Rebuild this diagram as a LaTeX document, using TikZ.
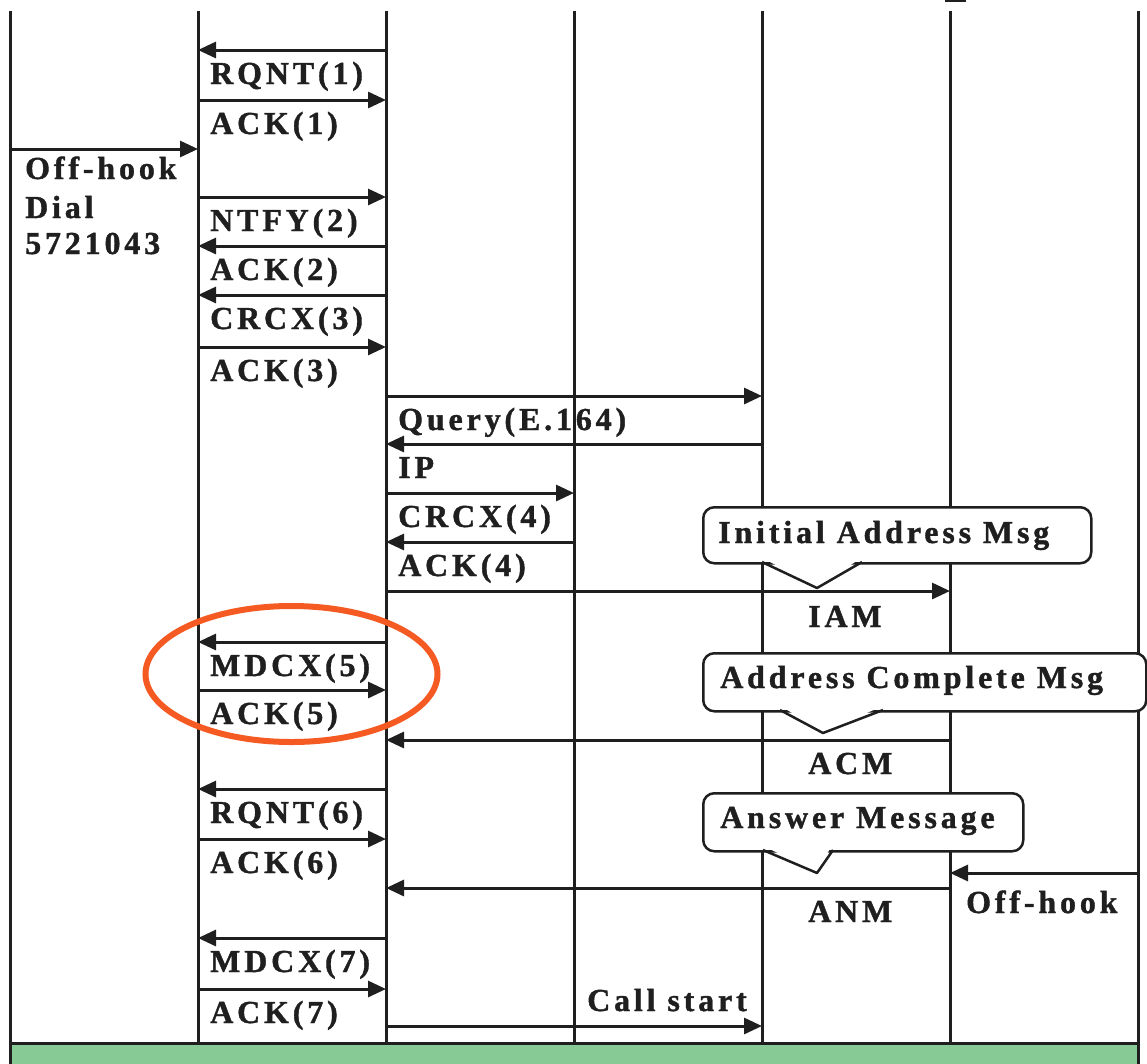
\documentclass[tikz,border=0pt]{standalone}
\usepackage{fontspec}
\setmainfont{Liberation Serif}[LetterSpace=12, BoldFeatures={FakeBold=1.2}]
\usetikzlibrary{arrows.meta}
\definecolor{barGreen}{RGB}{136,202,149}
\definecolor{ringOrange}{RGB}{244,90,34}
\tikzset{
  lifeline/.style={line width=3pt, black!88},
  msg/.style={line width=3pt, black!88, -{Triangle[length=18pt,width=16pt]}},
  lbl/.style={anchor=base west, inner sep=0pt, font=\fontsize{32}{37}\selectfont\bfseries, text=black!88},
  callbox/.style={draw=black!88, line width=2.5pt, fill=white, rounded corners=11pt, inner sep=0pt},
  pointer/.style={draw=black!88, line width=2.5pt, line join=round},
  ring/.style={draw=ringOrange, line width=6pt}
}
\begin{document}
\begin{tikzpicture}[x=1pt,y=-1pt]
\useasboundingbox (0,0) rectangle (1147,1063);
% lifelines
\foreach \i/\x in {0/10,1/198,2/386,3/574,4/762,5/950,6/1138}{
  \coordinate (L\i) at (\x,11);
  \coordinate (B\i) at (\x,1043);
  \draw[lifeline] (L\i) -- (B\i);
}
\draw[line width=2pt, black!88] (945,0.5) -- (966,0.5);
% messages
\foreach \n/\y/\a/\b/\lx/\t in {
  1/50/2/1/210/RQNT(1),
  2/100/1/2/210/ACK(1),
  4/197/1/2/210/NTFY(2),
  5/246/2/1/210/ACK(2),
  6/295/2/1/210/CRCX(3),
  7/347/1/2/210/ACK(3),
  8/396/2/4/398/Query(E.164),
  9/444/4/2/398/IP,
  10/493/2/3/398/CRCX(4),
  11/542/3/2/398/ACK(4),
  13/642/2/1/210/MDCX(5),
  14/690/1/2/210/ACK(5),
  16/789/2/1/210/RQNT(6),
  17/839/1/2/210/ACK(6),
  20/938/2/1/210/MDCX(7),
  21/989/1/2/210/ACK(7)}{
  \coordinate (s\n) at (L\a |- 0,\y);
  \coordinate (e\n) at (L\b |- 0,\y);
  \draw[msg] (s\n) -- (e\n);
  \node[lbl] (t\n) at (\lx,\y+34) {\t};
}
% off-hook on the left
\coordinate (s3) at (L0 |- 0,149);
\coordinate (e3) at (L1 |- 0,149);
\draw[msg] (s3) -- (e3);
\node[lbl] (t3a) at (25,179) {Off-hook};
\node[lbl] (t3b) at (25,218) {Dial};
\node[lbl] (t3c) at (25,254) {5721043};
% callouts
\node[callbox, minimum width=388pt, minimum height=56pt, anchor=north west] (cb1) at (702,506) {};
\fill[white] (764,559) -- (817,586) -- (860,559) -- cycle;
\draw[pointer] (762,562) -- (817,588) -- (862,562);
\node[lbl] (cbt1) at (718,543) {Initial Address Msg};

\node[callbox, minimum width=443pt, minimum height=58pt, anchor=north west] (cb2) at (702,652) {};
\fill[white] (782,707) -- (823,731) -- (881,707) -- cycle;
\draw[pointer] (780,710) -- (823,733) -- (883,710);
\node[lbl] (cbt2) at (720,688) {Address Complete Msg};

\node[callbox, minimum width=320pt, minimum height=58pt, anchor=north west] (cb3) at (702,792) {};
\fill[white] (765,847) -- (817,871) -- (831,847) -- cycle;
\draw[pointer] (763,850) -- (817,873) -- (833,850);
\node[lbl] (cbt3) at (720,828) {Answer Message};
% messages through the switches
\coordinate (s12) at (L2 |- 0,591);
\coordinate (e12) at (L5 |- 0,591);
\draw[msg] (s12) -- (e12);
\node[lbl] (t12) at (808,627) {IAM};
\coordinate (s15) at (L5 |- 0,740);
\coordinate (e15) at (L2 |- 0,740);
\draw[msg] (s15) -- (e15);
\node[lbl] (t15) at (808,774) {ACM};
\coordinate (s18) at (L6 |- 0,873);
\coordinate (e18) at (L5 |- 0,873);
\draw[msg] (s18) -- (e18);
\node[lbl] (t18) at (966,913) {Off-hook};
\coordinate (s19) at (L5 |- 0,888);
\coordinate (e19) at (L2 |- 0,888);
\draw[msg] (s19) -- (e19);
\node[lbl] (t19) at (808,922) {ANM};
\coordinate (s22) at (L2 |- 0,1026);
\coordinate (e22) at (L4 |- 0,1026);
\draw[msg] (s22) -- (e22);
\node[lbl] (t22) at (587,1011) {Call start};
% green bar
\draw[line width=3pt, draw=black!88, fill=barGreen] (B0) rectangle (1138,1075);
% highlight ring
\draw[ring] (291.5,674) ellipse [x radius=146pt, y radius=68pt];
\end{tikzpicture}
\end{document}
